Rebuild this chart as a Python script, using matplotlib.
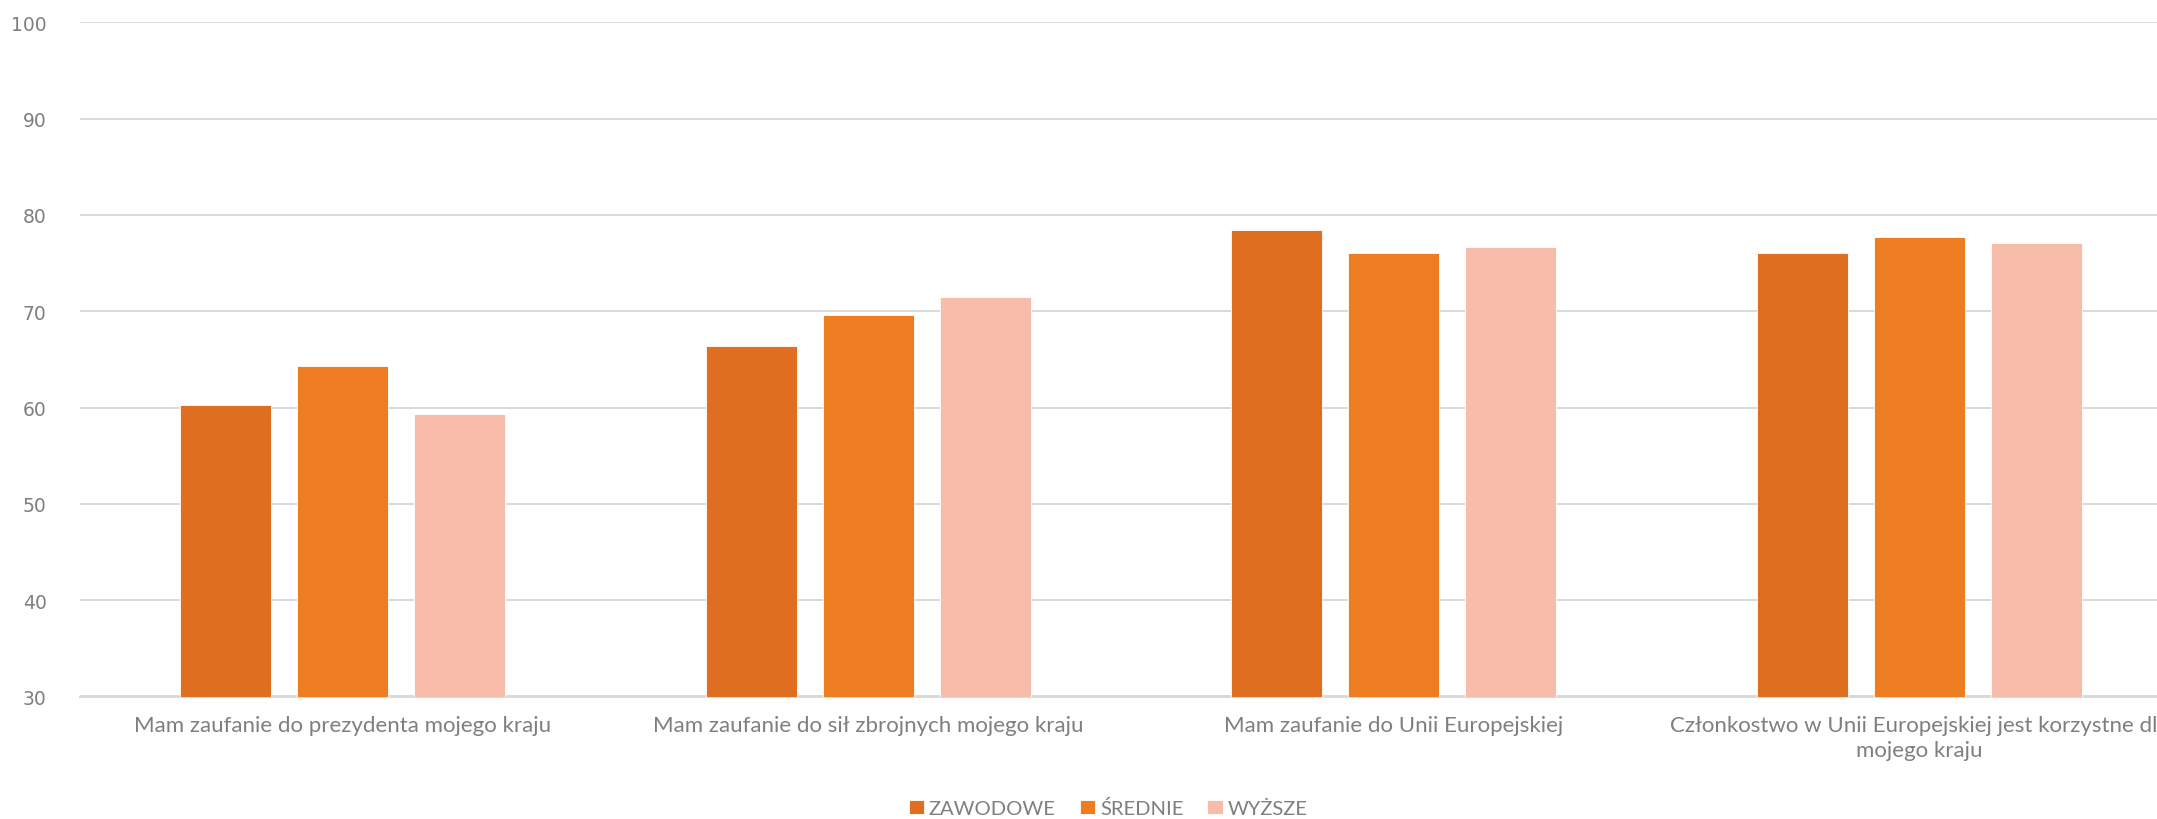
import numpy as np
from matplotlib import pyplot as plt

kategorie = [
    'Mam zaufanie do prezydenta mojego kraju',
    'Mam zaufanie do sił zbrojnych mojego kraju',
    'Mam zaufanie do Unii Europejskiej',
    'Członkostwo w Unii Europejskiej jest korzystne dla\nmojego kraju',
]
serie = ['ZAWODOWE', 'ŚREDNIE', 'WYŻSZE']
zawodowe = [60.3, 66.4, 78.4, 76.1]
srednie = [64.3, 69.6, 76.1, 77.7]
wyzsze = [59.3, 71.5, 76.7, 77.1]
kolory = ['#DF6E20', '#EE7D21', '#F8BDAA']

plt.rcParams['font.family'] = ['Lato', 'DejaVu Sans']
szary = '#7F7F7F'

fig = plt.figure(figsize=(21.57, 8.2), dpi=100)
ax = fig.add_axes([80 / 2157, 1 - 697.5 / 820, 2102 / 2157, (697.5 - 23.4) / 820])

x = np.arange(len(kategorie))
szer = 0.173
krok = 0.2225
for i, (dane, nazwa) in enumerate(zip([zawodowe, srednie, wyzsze], serie)):
    ax.bar(x + (i - 1) * krok, np.array(dane) - 30, bottom=30, width=szer,
           color=kolory[i], label=nazwa, edgecolor='white', linewidth=0.6, zorder=3)

ax.set_xlim(-0.5, 3.5)
ax.set_ylim(30, 100)
ax.set_yticks(range(30, 101, 10))
ax.yaxis.grid(True, color='#D9D9D9', linewidth=1.4, zorder=0)
ax.set_axisbelow(True)
for s in ['top', 'right', 'left']:
    ax.spines[s].set_visible(False)
ax.spines['bottom'].set_color('#D9D9D9')
ax.spines['bottom'].set_linewidth(1.4)
ax.tick_params(axis='both', length=0, colors=szary)
ax.tick_params(axis='y', pad=24)
ax.tick_params(axis='x', pad=13, labelsize=16)
for t in ax.get_yticklabels():
    t.set_fontfamily('DejaVu Sans')
    t.set_fontsize(13.5)
ax.set_xticks(x)
ax.set_xticklabels(kategorie, linespacing=1.35)

fig.legend(loc='center', bbox_to_anchor=(1108 / 2157, 1 - 809 / 820), ncol=3,
           frameon=False, fontsize=14.5, labelcolor=szary, handlelength=0.75,
           handleheight=0.75, handletextpad=0.25, columnspacing=1.2,
           borderpad=0, borderaxespad=0)

plt.savefig('out.png', dpi=100)
